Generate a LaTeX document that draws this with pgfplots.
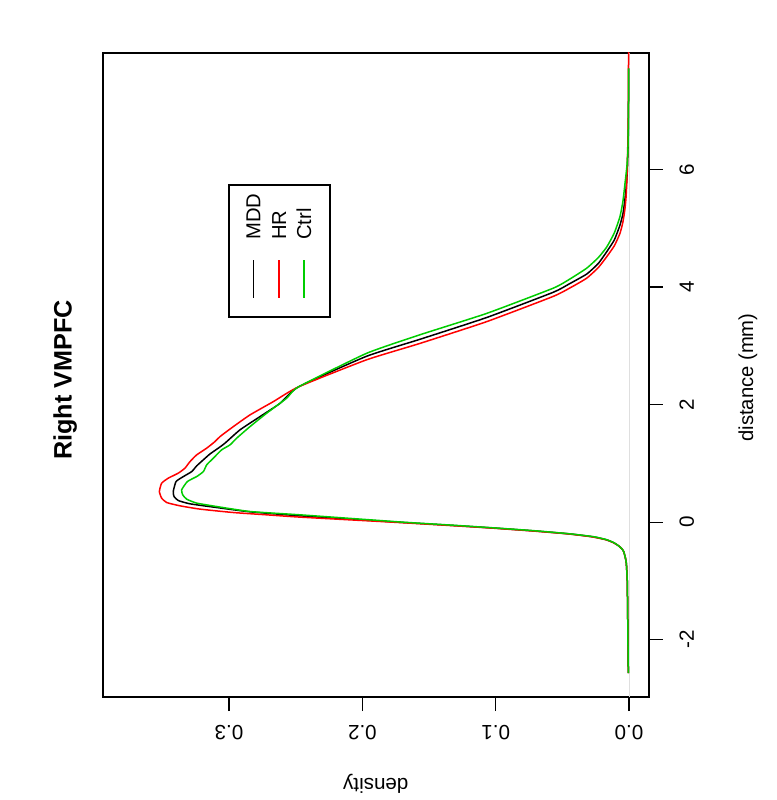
\documentclass[border=0pt]{standalone}
\usepackage{fontspec}
\setmainfont{Liberation Sans}
\usepackage{pgfplots}
\usepackage{pgfplotstable}
\pgfplotsset{compat=1.18}
\definecolor{rgreen}{RGB}{0,205,0}
\definecolor{rred}{RGB}{255,0,0}

\pgfplotstableread{
d dens
-2.57 0.0005
-2.0 0.0008
-1.5 0.0010
-1.0 0.0013
-0.7 0.0020
-0.6 0.0028
-0.5 0.0040
-0.45 0.0055
-0.4 0.0080
-0.35 0.0115
-0.3 0.0170
-0.25 0.027
-0.2 0.045
-0.15 0.071
-0.1 0.102
-0.05 0.137
0.0 0.174
0.107 0.2468
0.175 0.2843
0.248 0.3093
0.311 0.3293
0.367 0.3381
0.435 0.3413
0.52 0.3419
0.69 0.3398
0.775 0.3343
0.86 0.3280
0.957 0.3243
1.06 0.3193
1.16 0.3143
1.258 0.3081
1.343 0.3031
1.57 0.2918
1.795 0.2768
2.02 0.2618
2.30 0.2480
2.82 0.1970
3.11 0.1568
3.48 0.1068
3.91 0.0568
4.05 0.0450
4.22 0.0317
4.40 0.0230
4.60 0.0167
4.80 0.0110
5.05 0.0068
5.25 0.0045
5.50 0.0030
5.75 0.0019
6.00 0.0012
6.50 0.0006
7.00 0.0004
7.72 0.0003
}\mdd

\pgfplotstableread{
d dens
-2.57 0.0005
-2.0 0.0008
-1.5 0.0010
-1.0 0.0013
-0.7 0.0020
-0.6 0.0028
-0.5 0.0040
-0.45 0.0055
-0.4 0.0080
-0.35 0.0117
-0.3 0.0173
-0.25 0.028
-0.2 0.046
-0.15 0.073
-0.1 0.104
-0.05 0.140
0.0 0.178
0.085 0.2468
0.124 0.2718
0.163 0.2968
0.221 0.3218
0.277 0.3368
0.333 0.3468
0.408 0.3506
0.52 0.3523
0.662 0.3506
0.748 0.3456
0.833 0.3381
0.918 0.3331
1.03 0.3293
1.144 0.3243
1.258 0.3168
1.37 0.3106
1.455 0.3068
1.625 0.2968
1.824 0.2843
2.05 0.2668
2.30 0.2480
2.76 0.1970
3.04 0.1568
3.41 0.1068
3.84 0.0568
4.00 0.0430
4.15 0.0317
4.33 0.0230
4.515 0.0167
4.70 0.0110
4.91 0.0068
5.10 0.0046
5.30 0.0032
5.50 0.0023
5.76 0.0017
6.50 0.0008
7.00 0.0005
7.60 0.0004
8.30 0.0003
}\hr

\pgfplotstableread{
d dens
-2.57 0.0005
-2.0 0.0008
-1.5 0.0010
-1.0 0.0013
-0.7 0.0020
-0.6 0.0028
-0.5 0.0040
-0.45 0.0055
-0.4 0.0080
-0.35 0.0113
-0.3 0.0167
-0.25 0.026
-0.2 0.044
-0.15 0.069
-0.1 0.100
-0.05 0.134
0.0 0.170
0.124 0.2468
0.18 0.2843
0.265 0.3093
0.323 0.3243
0.39 0.3318
0.464 0.3348
0.549 0.3356
0.69 0.3313
0.775 0.3243
0.86 0.3193
0.974 0.3168
1.088 0.3118
1.229 0.3056
1.314 0.2993
1.428 0.2943
1.625 0.2843
1.853 0.2718
2.108 0.2568
2.30 0.2480
2.87 0.1970
3.187 0.1568
3.55 0.1068
3.98 0.0568
4.14 0.0440
4.32 0.0317
4.50 0.0230
4.68 0.0167
4.92 0.0110
5.195 0.0068
5.45 0.0046
5.76 0.0030
6.05 0.0016
6.33 0.0008
7.00 0.0004
7.72 0.0003
}\ctrl

\begin{document}
\begin{tikzpicture}
\useasboundingbox (0,0) rectangle (388.5pt,400pt);
\begin{axis}[
  at={(51.5pt,51.5pt)}, anchor=south west,
  scale only axis, width=273pt, height=322pt,
  x dir=reverse,
  xmin=-0.015, xmax=0.3946,
  ymin=-2.975, ymax=7.98,
  axis line style={black, line width=0.6pt},
  tick style={black, line width=0.6pt},
  tick align=outside, major tick length=7pt,
  xtick pos=left, ytick pos=right,
  xticklabel pos=left, yticklabel pos=right,
  xtick={0,0.1,0.2,0.3}, xticklabels={0.0,0.1,0.2,0.3},
  ytick={-2,0,2,4,6}, yticklabels={-2,0,2,4,6},
  minor tick num=0,
  /pgf/number format/assume math mode=true,
  tick label style={font=\fontsize{10.3}{12}\selectfont, inner sep=0pt},
  xticklabel style={yshift=-7.5pt, rotate=180, anchor=base},
  yticklabel style={xshift=15.5pt, rotate=90, anchor=base},
  clip=true,
  every axis plot/.append style={line join=round, smooth, tension=0.3},
]
\addplot[gray!25, line width=0.25pt, sharp plot] coordinates {(0,-2.975) (0,7.98)};
\addplot[black, line width=0.75pt] table[x=dens, y=d] {\mdd};
\addplot[rred, line width=0.75pt] table[x=dens, y=d] {\hr};
\addplot[rgreen, line width=0.75pt] table[x=dens, y=d] {\ctrl};
\end{axis}
% titles and axis labels (rotated as in the reference)
\node[rotate=90, anchor=base, inner sep=0pt, font=\bfseries\fontsize{12.6}{15}\selectfont] at (35.85pt,210pt) {Right VMPFC};
\node[rotate=90, anchor=base, inner sep=0pt, font=\fontsize{10.1}{12}\selectfont] at (376.5pt,211.25pt) {distance (mm)};
\node[rotate=180, anchor=base, inner sep=0pt, font=\fontsize{10.3}{12}\selectfont] at (187.9pt,10.5pt) {density};
% legend
\draw[black, line width=0.6pt] (114.5pt,241.5pt) rectangle (165pt,307.5pt);
\draw[black, line width=0.75pt] (126.65pt,251pt) -- (126.65pt,270pt);
\draw[rred, line width=0.75pt] (139.5pt,251pt) -- (139.5pt,270pt);
\draw[rgreen, line width=0.75pt] (152pt,251pt) -- (152pt,270pt);
\node[rotate=90, anchor=base west, inner sep=0pt, font=\fontsize{10.1}{12}\selectfont] at (130.2pt,280pt) {MDD};
\node[rotate=90, anchor=base west, inner sep=0pt, font=\fontsize{10.1}{12}\selectfont] at (143pt,280pt) {HR};
\node[rotate=90, anchor=base west, inner sep=0pt, font=\fontsize{10.1}{12}\selectfont] at (155.5pt,280pt) {Ctrl};
\end{tikzpicture}
\end{document}
